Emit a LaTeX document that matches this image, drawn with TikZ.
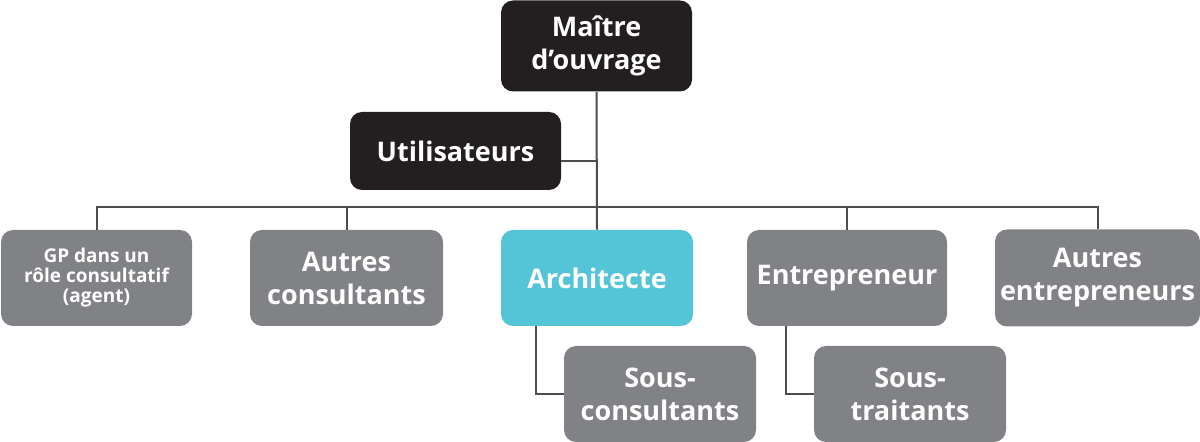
\documentclass[tikz,border=0pt]{standalone}
\usepackage{fontspec}
\setmainfont{Open Sans}
\usetikzlibrary{positioning}
\usetikzlibrary{calc}

\definecolor{boxblack}{HTML}{231F20}
\definecolor{boxgray}{HTML}{808285}
\definecolor{boxcyan}{HTML}{54C5D6}
\definecolor{linegray}{HTML}{4D4D4F}

\begin{document}
\begin{tikzpicture}[x=0.5pt, y=-0.5pt,
  rolebox/.style={rounded corners=6pt, align=center, text=white, inner sep=0pt,
    font=\bfseries\fontsize{13.5}{16.5}\selectfont, minimum width=96pt, minimum height=48pt},
  smalltext/.style={font=\bfseries\fontsize{9.5}{10}\selectfont},
  link/.style={draw=linegray, line width=1pt}]

\pgfmathsetmacro{\OFX}{61}
\pgfmathsetmacro{\UTY}{10}

\useasboundingbox [fill=white] (0, 0) rectangle (1200, 442);

\node [rolebox, fill=boxblack, minimum width=95.5pt, minimum height=45.5pt] (mo) at (596.5, 46) {Maître\\d’ouvrage};
\node [rolebox, fill=boxblack, minimum width=105.5pt, minimum height=39pt] (util) at (455.5, 151) {Utilisateurs};

\node [rolebox, smalltext, fill=boxgray, minimum width=95.5pt] (gp) at (96.5, 278) {GP dans un\\rôle consultatif\\(agent)};
\node [rolebox, fill=boxgray, minimum width=96.5pt] (ac) at (346.5, 278) {Autres\\consultants};
\node [rolebox, fill=boxcyan] (arch) at (597, 278) {Architecte};
\node [rolebox, fill=boxgray, minimum width=100pt] (entr) at (847, 278) {Entrepreneur};
\node [rolebox, fill=boxgray, minimum width=102.5pt, minimum height=48.5pt] (ae) at (1097.5, 278) {Autres\\entrepreneurs};

\node [rolebox, fill=boxgray] (sc) at (660, 394) {Sous-\\consultants};
\node [rolebox, fill=boxgray] (st) at (910, 394) {Sous-\\traitants};

\coordinate (bus) at (597, 207);
\coordinate (uj) at ($(util.east) + (0, \UTY)$);

\draw [link] (mo.south) -- (arch.north);
\draw [link] (uj) -- (uj -| mo.south);
\draw [link] (gp.north) |- (bus) -| (ae.north);
\draw [link] (ac.north) -- (ac.north |- bus);
\draw [link] (entr.north) -- (entr.north |- bus);

\draw [link] ($(arch.south) + (-\OFX, 0)$) |- (sc.west);
\draw [link] ($(entr.south) + (-\OFX, 0)$) |- (st.west);

\end{tikzpicture}
\end{document}
